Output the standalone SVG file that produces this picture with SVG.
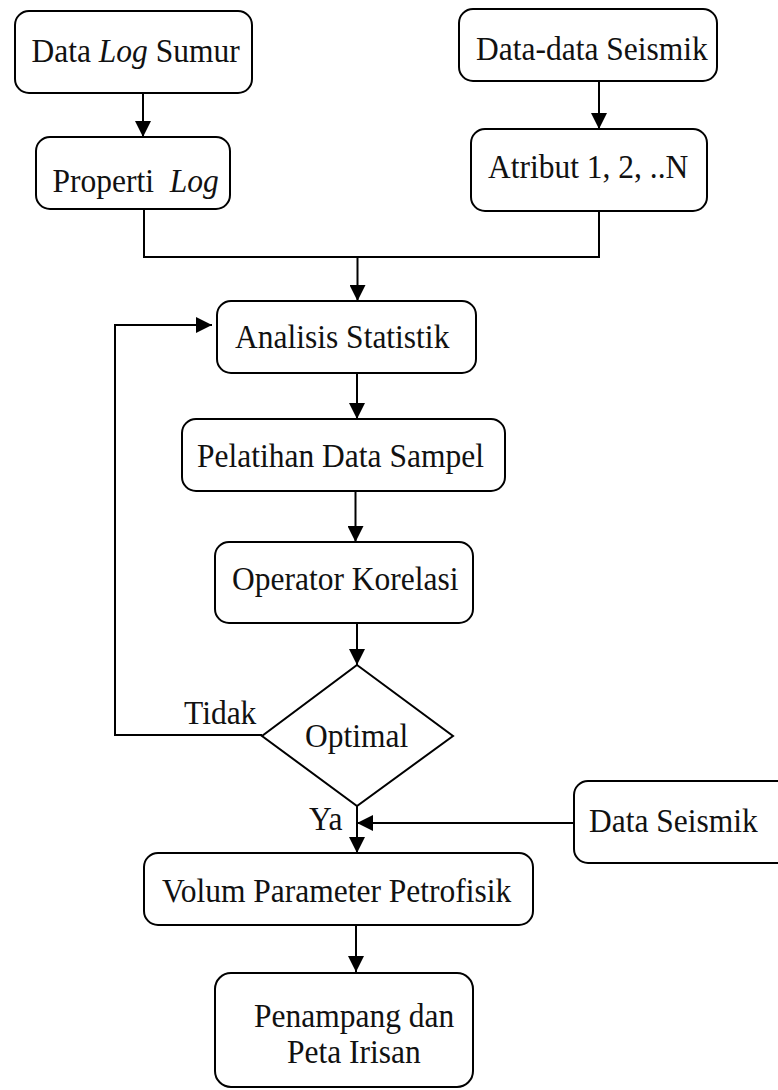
<svg xmlns="http://www.w3.org/2000/svg" width="778" height="1090" viewBox="0 0 778 1090">
<style>
  .box { fill: none; stroke: #000; stroke-width: 2; }
  .lbl { font-family: "Liberation Serif", "Times New Roman", serif; font-size: 31.5px; fill: #111; }
  .it { font-style: italic; }
  .wire { fill: none; stroke: #000; stroke-width: 2; }
</style>
<defs>
  <marker id="arr" markerUnits="userSpaceOnUse" markerWidth="16" markerHeight="16" refX="14" refY="7" orient="auto" viewBox="0 0 14 14">
    <path d="M0,0 L14,7 L0,14 z" fill="#000"/>
  </marker>
</defs>
<rect width="778" height="1090" fill="#fff"/>

<g id="connectors">
  <path class="wire" d="M143,93 V137" marker-end="url(#arr)"/>
  <path class="wire" d="M599,81 V129" marker-end="url(#arr)"/>
  <path class="wire" d="M144,209 V257 H599 V211"/>
  <path class="wire" d="M357.5,257 V301" marker-end="url(#arr)"/>
  <path class="wire" d="M357,373 V419" marker-end="url(#arr)"/>
  <path class="wire" d="M355.5,491 V542" marker-end="url(#arr)"/>
  <path class="wire" d="M357,623 V665" marker-end="url(#arr)"/>
  <path class="wire" d="M262,735 H115 V325 H212" marker-end="url(#arr)"/>
  <path class="wire" d="M357,806 V853" marker-end="url(#arr)"/>
  <path class="wire" d="M574,823 H357" marker-end="url(#arr)"/>
  <path class="wire" d="M356,925 V972" marker-end="url(#arr)"/>
</g>

<g id="data-log-sumur">
  <rect class="box" x="15" y="11" width="237" height="82" rx="14"/>
  <text class="lbl" transform="translate(31.5,62) scale(1,1.1)">Data <tspan class="it">Log</tspan> Sumur</text>
</g>
<g id="properti-log">
  <rect class="box" x="36" y="137" width="194" height="72" rx="14"/>
  <text class="lbl" transform="translate(52.5,191.5) scale(1,1.1)" xml:space="preserve">Properti  <tspan class="it">Log</tspan></text>
</g>
<g id="data-data-seismik">
  <rect class="box" x="459" y="9" width="258" height="72" rx="14"/>
  <text class="lbl" transform="translate(476,60) scale(1,1.1)">Data-data Seismik</text>
</g>
<g id="atribut">
  <rect class="box" x="471" y="129" width="236" height="82" rx="14"/>
  <text class="lbl" transform="translate(488,178) scale(1,1.1)">Atribut 1, 2, ..N</text>
</g>
<g id="analisis-statistik">
  <rect class="box" x="217" y="301" width="259" height="72" rx="14"/>
  <text class="lbl" transform="translate(235,348) scale(1,1.1)">Analisis Statistik</text>
</g>
<g id="pelatihan">
  <rect class="box" x="182" y="419" width="323" height="72" rx="14"/>
  <text class="lbl" transform="translate(197,467) scale(1,1.1)">Pelatihan Data Sampel</text>
</g>
<g id="operator-korelasi">
  <rect class="box" x="215" y="542" width="258" height="81" rx="14"/>
  <text class="lbl" transform="translate(232,590) scale(1,1.1)">Operator Korelasi</text>
</g>
<g id="optimal">
  <polygon class="box" points="357,665 453,736 357,806 262,736"/>
  <text class="lbl" transform="translate(305,747) scale(1,1.1)">Optimal</text>
  <text class="lbl" transform="translate(184,724) scale(1,1.1)">Tidak</text>
  <text class="lbl" transform="translate(309,830) scale(1,1.1)">Ya</text>
</g>
<g id="data-seismik">
  <rect class="box" x="574" y="781" width="232" height="82" rx="14"/>
  <text class="lbl" transform="translate(589,832) scale(1,1.1)">Data Seismik</text>
</g>
<g id="volum">
  <rect class="box" x="144" y="853" width="389" height="72" rx="14"/>
  <text class="lbl" transform="translate(162,902) scale(1,1.1)">Volum Parameter Petrofisik</text>
</g>
<g id="penampang">
  <rect class="box" x="215" y="973" width="258" height="114" rx="16"/>
  <text class="lbl" transform="translate(254,1027) scale(1,1.1)">Penampang dan</text>
  <text class="lbl" transform="translate(287,1063) scale(1,1.1)">Peta Irisan</text>
</g>
</svg>
